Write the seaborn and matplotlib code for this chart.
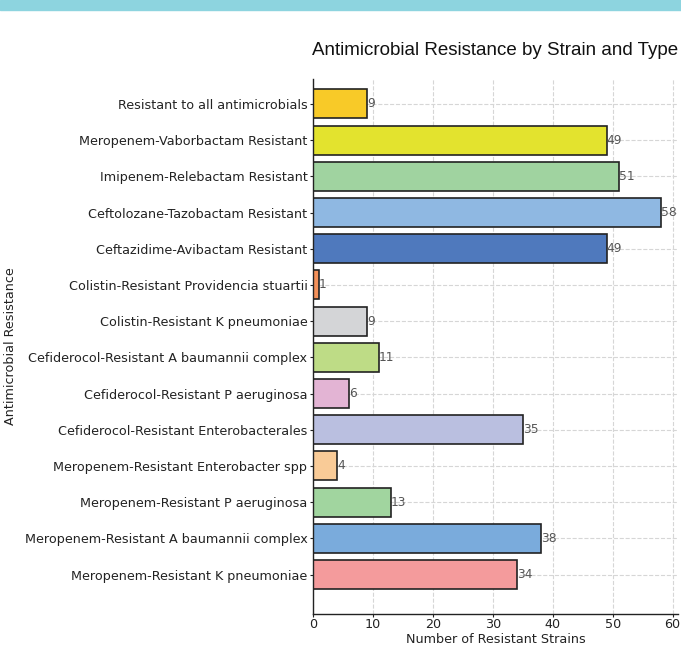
import numpy as np
import pandas as pd
import seaborn as sns
import matplotlib.pyplot as plt
from matplotlib.patches import Rectangle

# categories listed top to bottom as in the chart
strains = [
    'Resistant to all antimicrobials',
    'Meropenem-Vaborbactam Resistant',
    'Imipenem-Relebactam Resistant',
    'Ceftolozane-Tazobactam Resistant',
    'Ceftazidime-Avibactam Resistant',
    'Colistin-Resistant Providencia stuartii',
    'Colistin-Resistant K pneumoniae',
    'Cefiderocol-Resistant A baumannii complex',
    'Cefiderocol-Resistant P aeruginosa',
    'Cefiderocol-Resistant Enterobacterales',
    'Meropenem-Resistant Enterobacter spp',
    'Meropenem-Resistant P aeruginosa',
    'Meropenem-Resistant A baumannii complex',
    'Meropenem-Resistant K pneumoniae',
]
counts = [9, 49, 51, 58, 49, 1, 9, 11, 6, 35, 4, 13, 38, 34]
bar_colors = ['#f8ca28', '#e3e32e', '#a0d3a0', '#8fb8e2', '#4f79bd',
              '#f4915a', '#d4d5d7', '#bedc86', '#e3b4d4', '#babfe0',
              '#f9cb97', '#a1d59f', '#7aabdc', '#f49b9c']

df = pd.DataFrame({'strain': strains, 'count': counts})

sns.set_style('white')
plt.rcParams['font.family'] = ['DejaVu Sans']

fig = plt.figure(figsize=(6.81, 6.47), dpi=100)
ax = fig.add_axes([313 / 681, 1 - 614 / 647, 365 / 681, 535 / 647])

sns.barplot(data=df, x='count', y='strain', hue='strain', palette=bar_colors,
            saturation=1, legend=False, orient='h', width=0.8,
            edgecolor='#222222', linewidth=1.2, ax=ax, zorder=2)

for i, v in enumerate(counts):
    ax.text(v, i, str(v), va='center', ha='left', fontsize=8.8, color='#555555')

ax.set_xlim(0, 60.9)
ax.set_ylim(len(strains) - 1 + 1.09, -0.69)
ax.set_xticks(range(0, 61, 10))
ax.grid(True, linestyle='--', color='#d6d6d6', linewidth=0.8, zorder=0)
ax.set_axisbelow(True)
for s in ['top', 'right']:
    ax.spines[s].set_visible(False)
for s in ['left', 'bottom']:
    ax.spines[s].set_color('#222222')
    ax.spines[s].set_linewidth(1.0)
ax.tick_params(axis='both', labelsize=9.2, colors='#222222', length=2.5,
               pad=1.5, left=True, bottom=True)
ax.tick_params(axis='x', pad=0.5)
ax.set_xlabel('Number of Resistant Strains', fontsize=9.2, color='#222222', labelpad=1)
ax.set_ylabel('Antimicrobial Resistance', fontsize=9.2, color='#222222')
ax.yaxis.set_label_coords(-0.81, 0.5)
ax.set_title('Antimicrobial Resistance by Strain and Type', fontsize=13.5,
             family='Liberation Sans', color='#111111', pad=17)

fig.patches.append(Rectangle((0, 1 - 10 / 647), 1, 10 / 647, transform=fig.transFigure,
                             color='#8dd4df', zorder=0))

fig.savefig('out.png', dpi=100)
